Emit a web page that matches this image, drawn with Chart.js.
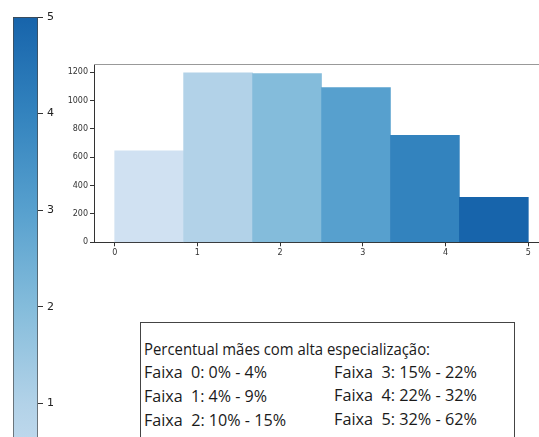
<!DOCTYPE html>
<html>
<head>
<meta charset="utf-8">
<script src="https://cdn.jsdelivr.net/npm/chart.js@4"></script>
<style>
  html, body { margin: 0; padding: 0; background: #fff; }
  body { width: 539px; height: 437px; overflow: hidden; position: relative; }
  #colorbar { position: absolute; left: 0; top: 0; }
  #hist { position: absolute; left: 50px; top: 40px; }
  #legend {
    position: absolute; left: 140px; top: 322px; width: 375px; height: 140px;
    border: 1px solid #444; box-sizing: border-box;
    font-family: "Open Sans", "Noto Sans", sans-serif; color: #1a1a1a;
  }
  #legend div { position: absolute; white-space: pre; line-height: 1; transform-origin: 0 0; }
</style>
</head>
<body>
<canvas id="colorbar" width="60" height="520"></canvas>
<canvas id="hist" width="510" height="250"></canvas>
<div id="legend"></div>
<script>
// histogram data: 6 bins over 0..5
const binCenters = [0.4167, 1.25, 2.0833, 2.9167, 3.75, 4.5833];
const counts = [646, 1195, 1190, 1091, 755, 318];
const barColors = ["#d0e1f2", "#b2d2e8", "#84bcdb", "#57a0ce", "#3383be", "#1764ab"];

// legend text
const legendTitle = "Percentual mães com alta especialização:";
const faixaLabels = [
  "Faixa  0: 0% - 4%",
  "Faixa  1: 4% - 9%",
  "Faixa  2: 10% - 15%",
  "Faixa  3: 15% - 22%",
  "Faixa  4: 22% - 32%",
  "Faixa  5: 32% - 62%"
];

const tickFont = { family: "DejaVu Sans", size: 8 };

// top spine of the plot area
const frame = {
  id: "frame",
  afterDraw(chart) {
    const a = chart.chartArea, c = chart.ctx;
    c.save();
    c.strokeStyle = "#999";
    c.lineWidth = 1;
    c.beginPath();
    c.moveTo(a.left, a.top + 0.5);
    c.lineTo(a.right, a.top + 0.5);
    c.stroke();
    c.restore();
  }
};

new Chart(document.getElementById("hist"), {
  type: "bar",
  data: {
    datasets: [{
      data: binCenters.map((x, i) => ({ x: x, y: counts[i] })),
      backgroundColor: barColors,
      borderWidth: 0,
      barPercentage: 1,
      categoryPercentage: 1
    }]
  },
  options: {
    responsive: false,
    animation: false,
    layout: { padding: { left: 0, top: 24, right: 11, bottom: 0 } },
    plugins: { legend: { display: false }, tooltip: { enabled: false } },
    scales: {
      x: {
        type: "linear", min: -0.25, max: 5.25, offset: false,
        grid: { offset: false, drawOnChartArea: false, drawTicks: true, tickLength: 4, color: "#333" },
        border: { display: true, color: "#333", width: 1 },
        ticks: { stepSize: 1, includeBounds: false, font: tickFont, color: "#333", padding: 2, maxRotation: 0 },
        afterFit: s => { s.height = 47.7; }
      },
      y: {
        min: 0, max: 1258,
        grid: { drawOnChartArea: false, drawTicks: true, tickLength: 4, color: "#333" },
        border: { display: true, color: "#333", width: 1 },
        ticks: { stepSize: 200, includeBounds: false, font: tickFont, color: "#333", padding: 2,
                 callback: v => String(v) },
        afterFit: s => { s.width = 44; }
      }
    }
  },
  plugins: [frame]
});

// colorbar: one bar 0..5 filled with the bar colours
const cbTicks = [0, 1, 2, 3, 4, 5];
new Chart(document.getElementById("colorbar"), {
  type: "bar",
  data: {
    labels: [""],
    datasets: [{
      data: [cbTicks[cbTicks.length - 1]],
      backgroundColor: ctx => {
        const chart = ctx.chart;
        if (!chart.chartArea) return barColors[0];
        const y = chart.scales.y;
        const g = chart.ctx.createLinearGradient(0, y.getPixelForValue(0), 0, y.getPixelForValue(5));
        barColors.forEach((c, i) => g.addColorStop(i / (barColors.length - 1), c));
        return g;
      },
      borderColor: "#444",
      borderWidth: 1,
      borderSkipped: false,
      barPercentage: 1,
      categoryPercentage: 1
    }]
  },
  options: {
    responsive: false,
    animation: false,
    layout: { padding: { left: 13, top: 17, right: 0, bottom: 20 } },
    plugins: { legend: { display: false }, tooltip: { enabled: false } },
    scales: {
      x: { display: false },
      y: {
        position: "right", min: 0, max: 5,
        grid: { drawOnChartArea: false, drawTicks: true, tickLength: 5, color: "#333" },
        border: { display: false },
        ticks: { stepSize: 1, font: { family: "DejaVu Sans", size: 11 }, color: "#222", padding: 4 },
        afterFit: s => { s.width = 22; }
      }
    }
  }
});

// legend box
const legend = document.getElementById("legend");
function addLine(text, left, baseline, size, width) {
  const d = document.createElement("div");
  d.textContent = text;
  d.style.left = left + "px";
  d.style.top = (baseline - 0.888 * size) + "px";
  d.style.fontSize = size + "px";
  legend.appendChild(d);
  const w = d.getBoundingClientRect().width;
  d.style.transform = "scaleX(" + (width / w) + ")";
}
addLine(legendTitle, 3, 32, 16, 286);
const colLeft = [3, 193];
const rowBase = [[55.5, 79.7, 103.7], [55.3, 78.7, 102.7]];
const rowWidth = [[123, 123, 142], [143, 143, 143]];
faixaLabels.forEach((t, i) => {
  const col = i < 3 ? 0 : 1, row = i % 3;
  addLine(t, colLeft[col], rowBase[col][row], 16, rowWidth[col][row]);
});
</script>
</body>
</html>
